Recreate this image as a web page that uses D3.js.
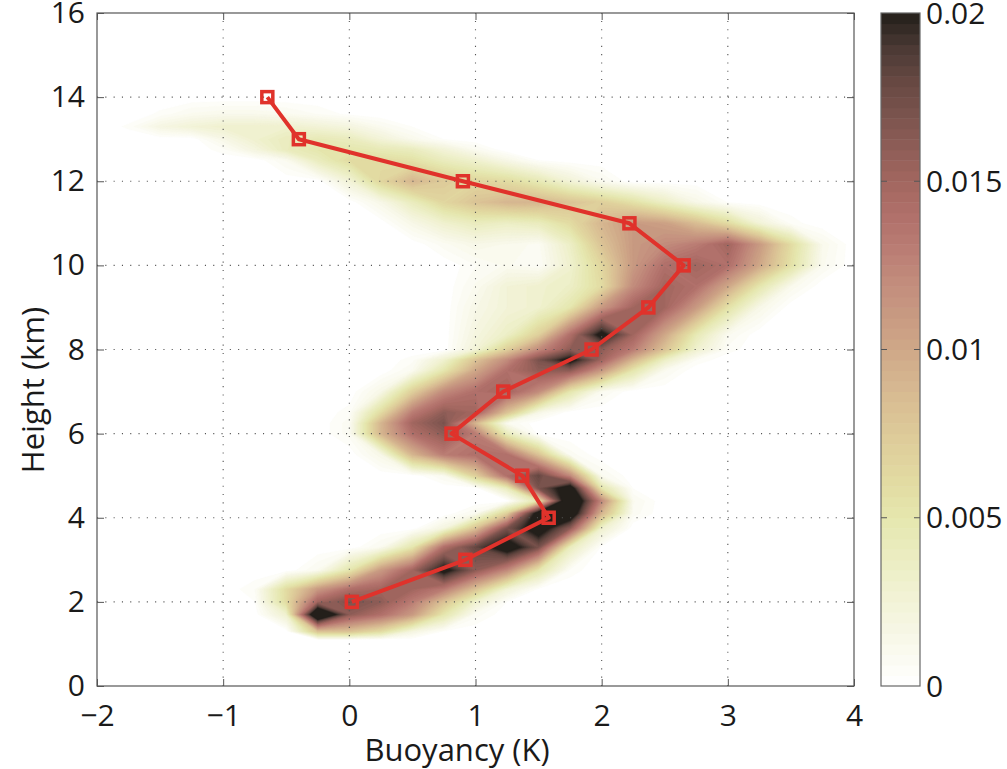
<!DOCTYPE html>
<html>
<head>
<meta charset="utf-8">
<script src="https://cdn.jsdelivr.net/npm/d3@7"></script>
<style>
  body { margin: 0; background: #fff; }
  svg text { font-family: "Open Sans", "DejaVu Sans", sans-serif; fill: #1a1a1a; }
</style>
</head>
<body>
<div id="chart"></div>
<script>
// buoyancy bins (K), columns of the density grid
const buoyancyBins = [-2, -1.75, -1.5, -1.25, -1, -0.75, -0.5, -0.25, 0, 0.25, 0.5, 0.75,
                      1, 1.25, 1.5, 1.75, 2, 2.25, 2.5, 2.75, 3, 3.25, 3.5, 3.75, 4];
// heights (km) of the grid rows
const heightRows = [0, 1.1, 1.3, 1.7, 2.0, 2.3, 2.75, 3.3, 3.75, 4.1, 4.4, 4.7, 5.0, 5.5, 6.0, 6.25,
                    6.5, 7.0, 7.5, 7.75, 8.0, 8.35, 9.0, 9.5, 10.0, 10.5, 11.0, 11.5, 12.0, 12.5,
                    12.75, 13.0, 13.3, 13.6, 14.0, 16];
// probability density, units of 1e-3, one row per height
const densityRows = [
  [0,0,0,0,0,0,0,0,0,0,0,0,0,0,0,0,0,0,0,0,0,0,0,0,0],
  [0,0,0,0,0,0,0,0,0,0,0,0,0,0,0,0,0,0,0,0,0,0,0,0,0],
  [0,0,0,0,0,0,0,8,8,6,2,0.3,0,0,0,0,0,0,0,0,0,0,0,0,0],
  [0,0,0,0,0,0,3,25,16,14,11,5,0.8,0,0,0,0,0,0,0,0,0,0,0,0],
  [0,0,0,0,0,0.3,6,15,17,16,13,8,3,0.3,0,0,0,0,0,0,0,0,0,0,0],
  [0,0,0,0,0,0.6,6,11,14,15,15,13,8,2.5,0.2,0,0,0,0,0,0,0,0,0,0],
  [0,0,0,0,0,0,0,1,5,11,15,21,16,12,5,0.5,0,0,0,0,0,0,0,0,0],
  [0,0,0,0,0,0,0,0,0,1,5,14,18,22,17,4,0.2,0,0,0,0,0,0,0,0],
  [0,0,0,0,0,0,0,0,0,0,0,2,8,17,22,16,3,0,0,0,0,0,0,0,0],
  [0,0,0,0,0,0,0,0,0,0,0,0,1,7,22,23,9,0.8,0,0,0,0,0,0,0],
  [0,0,0,0,0,0,0,0,0,0,0,0,0,0,5,25,12,1,0,0,0,0,0,0,0],
  [0,0,0,0,0,0,0,0,0,0,0,0,0,4,17,22,5,0.3,0,0,0,0,0,0,0],
  [0,0,0,0,0,0,0,0,0,0,0,1,7,14,18,12,1,0,0,0,0,0,0,0,0],
  [0,0,0,0,0,0,0,0,0,1.5,9,13,14,14,8,0.8,0,0,0,0,0,0,0,0,0],
  [0,0,0,0,0,0,0,0,0.8,9,14,16,13,4,0,0,0,0,0,0,0,0,0,0,0],
  [0,0,0,0,0,0,0,0,0.8,9,15,17,9,1,0,0,0,0,0,0,0,0,0,0,0],
  [0,0,0,0,0,0,0,0,0.5,6,13,16,15,8,1.5,0,0,0,0,0,0,0,0,0,0],
  [0,0,0,0,0,0,0,0,0,1.5,7,12,14,15,12,5,1,0,0,0,0,0,0,0,0],
  [0,0,0,0,0,0,0,0,0,0,1,5,10,14,16,16,11,5,1,0,0,0,0,0,0],
  [0,0,0,0,0,0,0,0,0,0,0.5,3,8,12,17,21,15,9,3.5,0.6,0,0,0,0,0],
  [0,0,0,0,0,0,0,0,0,0,0,0,2.5,7,12,16,16,13,8,3,0.5,0,0,0,0],
  [0,0,0,0,0,0,0,0,0,0,0,0,2,3.5,7,14,21,15,10,4.5,1,0,0,0,0],
  [0,0,0,0,0,0,0,0,0,0,0,0,1.5,2.5,3,5,11,15,15,11,5.5,1.5,0,0,0],
  [0,0,0,0,0,0,0,0,0,0,0,0,1,2.5,3,3.5,6,12,15,14,10,5,1.2,0,0],
  [0,0,0,0,0,0,0,0,0,0,0,0,0.6,1,0.6,3,6.5,11,14,15,14,10,5.5,1,0],
  [0,0,0,0,0,0,0,0,0,0,0,0.8,1.5,1.2,0.8,3.5,8,11,12,13,15,11,6,1.2,0],
  [0,0,0,0,0,0,0,0,0,0,1.5,3,4,3.5,4,6,9,11,10.5,8.5,6,2.5,0.5,0,0],
  [0,0,0,0,0,0,0,0,0,1.5,4,6.5,8,9,9,8,7,5.5,3.5,1.5,0.3,0,0,0,0],
  [0,0,0,0,0,0,0,0,2.5,6.5,9,7.5,6.5,6,4.5,2.5,1,0,0,0,0,0,0,0,0],
  [0,0,0,0,0,0,1,4,6,6,5.5,4,3,1.5,0.3,0,0,0,0,0,0,0,0,0,0],
  [0,0,0,0,0.5,2,4,5,5,4.5,4,2.5,1,0,0,0,0,0,0,0,0,0,0,0,0],
  [0,0,0,0,1.5,3,4,4.5,4,2.5,1.2,0.3,0,0,0,0,0,0,0,0,0,0,0,0,0],
  [0,0.4,1.8,2.5,3,3,3,2.5,2,1,0.3,0,0,0,0,0,0,0,0,0,0,0,0,0,0],
  [0,0,0.4,1,1.2,1.2,1,0.6,0.2,0,0,0,0,0,0,0,0,0,0,0,0,0,0,0,0],
  [0,0,0,0,0,0,0,0,0,0,0,0,0,0,0,0,0,0,0,0,0,0,0,0,0],
  [0,0,0,0,0,0,0,0,0,0,0,0,0,0,0,0,0,0,0,0,0,0,0,0,0]
];

// mean buoyancy profile (red line)
const profileHeights = [2, 3, 4, 5, 6, 7, 8, 9, 10, 11, 12, 13, 14];
const profileBuoyancy = [0.02, 0.92, 1.58, 1.37, 0.81, 1.22, 1.92, 2.37, 2.65, 2.22, 0.90, -0.40, -0.65];

const xTicks = [-2, -1, 0, 1, 2, 3, 4];
const yTicks = [0, 2, 4, 6, 8, 10, 12, 14, 16];
const cbTicks = [0, 0.005, 0.01, 0.015, 0.02];

(function(){
    const width = 1007, height = 769;
    const plot = {left: 97, right: 854, top: 13, bottom: 686};
    const bar = {left: 881, right: 920};

    const svg = d3.select("#chart").append("svg")
        .attr("width", width)
        .attr("height", height);

    const x = d3.scaleLinear().domain([-2, 4]).range([plot.left, plot.right]);
    const y = d3.scaleLinear().domain([0, 16]).range([plot.bottom, plot.top]);

    // colormap (density in 1e-3 units)
    const cmap = d3.scaleLinear()
        .domain(d3.range(0, 21))
        .range(["#ffffff", "#fafaf0", "#f5f5df", "#f0f1cf", "#eaecbe", "#e5e7ae", "#e2dca3",
                "#dfd09c", "#dbc496", "#d6b690", "#cfa888", "#c89a82", "#c28c7c", "#ba7c74",
                "#b0706a", "#a2665f", "#8e5d57", "#7a534d", "#664842", "#4a3934", "#231f1a"])
        .clamp(true);

    const nLev = 64, step = 20 / nLev;

    // contour the grid; grid rows/cols can be unevenly spaced
    const nx = buoyancyBins.length, ny = heightRows.length;
    const values = [];
    densityRows.forEach(row => row.forEach(v => values.push(v)));
    const colToB = d3.scaleLinear().domain(d3.range(nx)).range(buoyancyBins);
    const rowToH = d3.scaleLinear().domain(d3.range(ny)).range(heightRows);

    const proj = d3.geoTransform({
        point: function(px, py) {
            this.stream.point(x(colToB(px - 0.5)), y(rowToH(py - 0.5)));
        }
    });
    const path = d3.geoPath(proj);

    const thresholds = d3.range(1, nLev + 1).map(k => k * step);
    const contours = d3.contours().size([nx, ny]).thresholds(thresholds)(values);

    svg.append("defs").append("clipPath").attr("id", "plotclip")
        .append("rect")
        .attr("x", plot.left).attr("y", plot.top)
        .attr("width", plot.right - plot.left).attr("height", plot.bottom - plot.top);

    const g = svg.append("g").attr("clip-path", "url(#plotclip)");

    g.selectAll("path.band")
        .data(contours)
        .enter().append("path")
        .attr("class", "band")
        .attr("d", path)
        .attr("fill", d => cmap(Math.min(d.value + step / 2, 20)))
        .attr("stroke", d => cmap(Math.min(d.value + step / 2, 20)))
        .attr("stroke-width", 0.3);

    // dotted grid
    const grid = svg.append("g")
        .attr("stroke", "#555")
        .attr("stroke-width", 1.1)
        .attr("stroke-dasharray", "1.1,7.2");
    xTicks.slice(1, -1).forEach(t => {
        grid.append("line")
            .attr("x1", x(t)).attr("x2", x(t))
            .attr("y1", plot.bottom).attr("y2", plot.top);
    });
    yTicks.slice(1, -1).forEach(t => {
        grid.append("line")
            .attr("x1", plot.left).attr("x2", plot.right)
            .attr("y1", y(t)).attr("y2", y(t));
    });

    // profile line and square markers
    const pts = profileHeights.map((h, i) => [profileBuoyancy[i], h]);
    const line = d3.line().x(d => x(d[0])).y(d => y(d[1]));
    svg.append("path")
        .datum(pts)
        .attr("d", line)
        .attr("fill", "none")
        .attr("stroke", "#e0322b")
        .attr("stroke-width", 4)
        .attr("stroke-linejoin", "round");

    const sq = 11;
    svg.selectAll("rect.marker")
        .data(pts)
        .enter().append("rect")
        .attr("class", "marker")
        .attr("x", d => x(d[0]) - sq / 2)
        .attr("y", d => y(d[1]) - sq / 2)
        .attr("width", sq)
        .attr("height", sq)
        .attr("fill", "none")
        .attr("stroke", "#e0322b")
        .attr("stroke-width", 3.5);

    // axes (ticks point inward)
    const fontSize = "30px";
    const styleAxis = sel => {
        sel.select(".domain").remove();
        sel.selectAll(".tick line").attr("stroke", "#555");
        sel.selectAll(".tick text").style("font-size", fontSize).attr("fill", "#1a1a1a");
    };

    svg.append("g")
        .attr("transform", `translate(0,${plot.bottom})`)
        .call(d3.axisBottom(x).tickValues(xTicks).tickFormat(d3.format("d"))
            .tickSizeInner(-7).tickSizeOuter(0).tickPadding(19))
        .call(styleAxis);
    svg.append("g")
        .attr("transform", `translate(0,${plot.top})`)
        .call(d3.axisTop(x).tickValues(xTicks).tickSizeInner(-7).tickSizeOuter(0).tickFormat(""))
        .call(styleAxis);
    svg.append("g")
        .attr("transform", `translate(${plot.left},0)`)
        .call(d3.axisLeft(y).tickValues(yTicks).tickSizeInner(-7).tickSizeOuter(0).tickPadding(12))
        .call(styleAxis);
    svg.append("g")
        .attr("transform", `translate(${plot.right},0)`)
        .call(d3.axisRight(y).tickValues(yTicks).tickSizeInner(-7).tickSizeOuter(0).tickFormat(""))
        .call(styleAxis);

    svg.append("rect")
        .attr("x", plot.left).attr("y", plot.top)
        .attr("width", plot.right - plot.left).attr("height", plot.bottom - plot.top)
        .attr("fill", "none")
        .attr("stroke", "#555")
        .attr("stroke-width", 1.2);

    // axis labels
    svg.append("text")
        .attr("x", 457)
        .attr("y", 761)
        .attr("text-anchor", "middle")
        .style("font-size", "31px")
        .text("Buoyancy (K)");

    svg.append("text")
        .attr("transform", "translate(44,390) rotate(-90)")
        .attr("text-anchor", "middle")
        .style("font-size", "31px")
        .text("Height (km)");

    // colorbar
    const c = d3.scaleLinear().domain([0, 0.02]).range([plot.bottom, plot.top]);
    const cb = svg.append("g");
    cb.selectAll("rect.cell")
        .data(d3.range(nLev))
        .enter().append("rect")
        .attr("class", "cell")
        .attr("x", bar.left)
        .attr("y", k => c((k + 1) * step / 1000))
        .attr("width", bar.right - bar.left)
        .attr("height", k => c(k * step / 1000) - c((k + 1) * step / 1000) + 0.5)
        .attr("fill", k => cmap((k + 0.5) * step));

    cb.append("rect")
        .attr("x", bar.left).attr("y", plot.top)
        .attr("width", bar.right - bar.left).attr("height", plot.bottom - plot.top)
        .attr("fill", "none")
        .attr("stroke", "#666")
        .attr("stroke-width", 1.2);

    cbTicks.slice(1, -1).forEach(t => {
        cb.append("line")
            .attr("x1", bar.left).attr("x2", bar.left + 6)
            .attr("y1", c(t)).attr("y2", c(t))
            .attr("stroke", "#555");
        cb.append("line")
            .attr("x1", bar.right - 6).attr("x2", bar.right)
            .attr("y1", c(t)).attr("y2", c(t))
            .attr("stroke", "#555");
    });

    cb.selectAll("text.cblab")
        .data(cbTicks)
        .enter().append("text")
        .attr("class", "cblab")
        .attr("x", bar.right + 6)
        .attr("y", t => c(t))
        .attr("dy", "0.35em")
        .style("font-size", fontSize)
        .text(t => String(t));
})();
</script>
</body>
</html>
